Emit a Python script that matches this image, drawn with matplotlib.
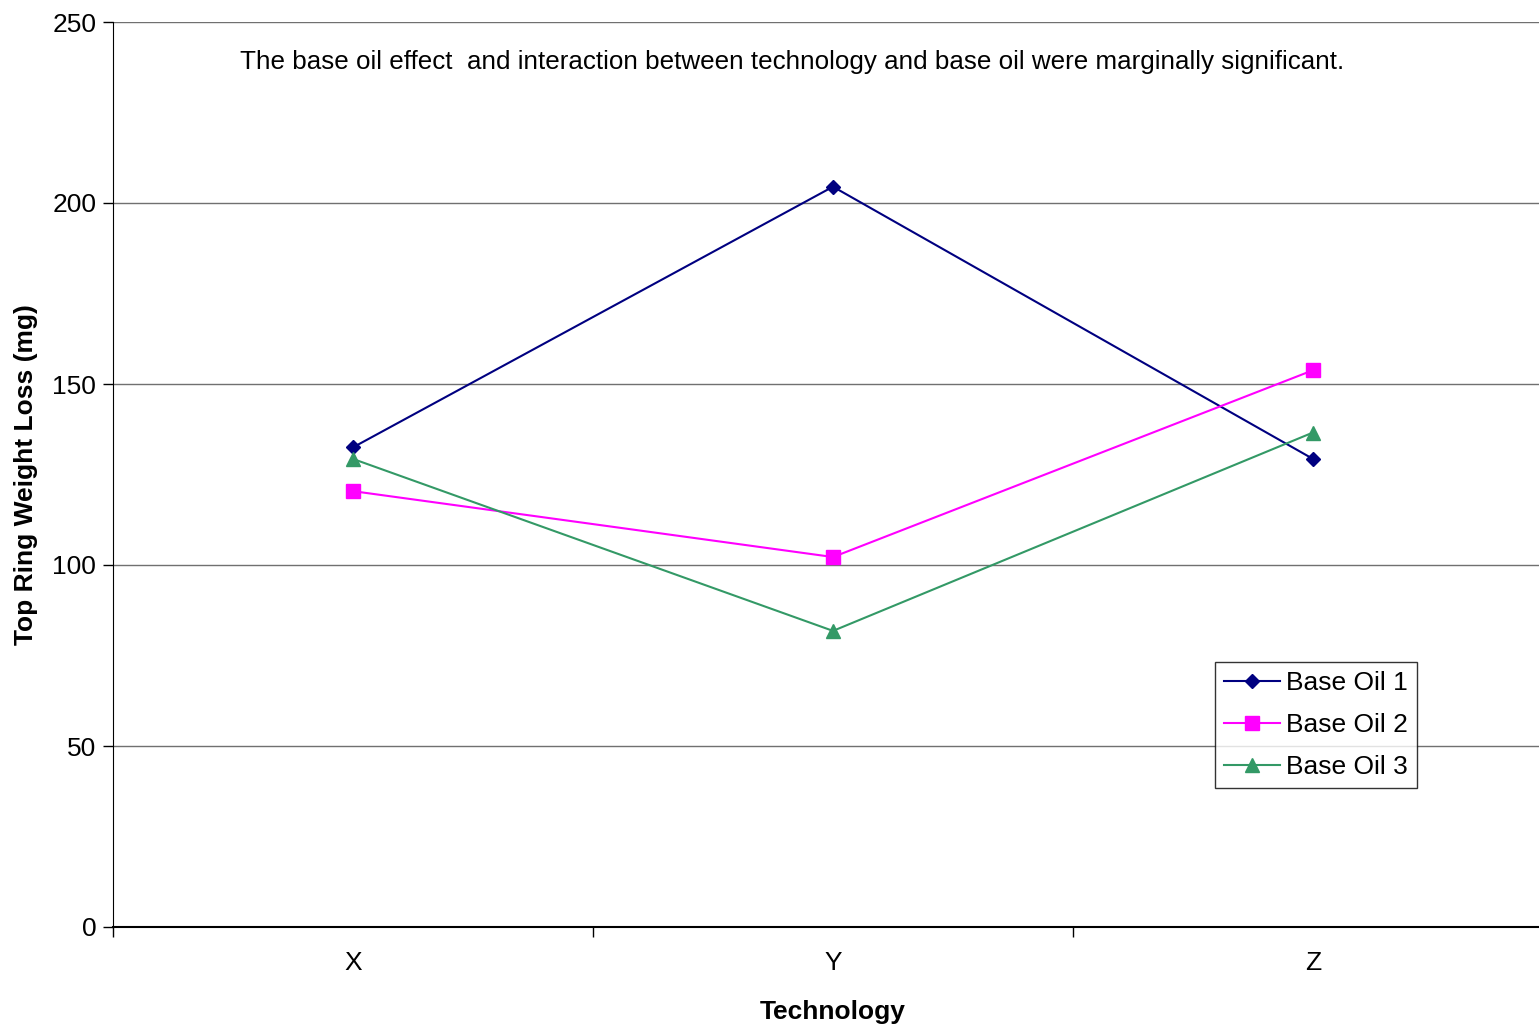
import matplotlib
matplotlib.use("Agg")
import matplotlib.pyplot as plt

plt.rcParams['font.family'] = ['Liberation Sans', 'DejaVu Sans']

categories = ["X", "Y", "Z"]
base_oil_1 = [132.5, 204.5, 129.3]
base_oil_2 = [120.4, 102.2, 153.8]
base_oil_3 = [129.3, 81.8, 136.6]
series_labels = ["Base Oil 1", "Base Oil 2", "Base Oil 3"]
y_ticks = [0, 50, 100, 150, 200, 250]
note = "The base oil effect  and interaction between technology and base oil were marginally significant."

W, H = 1539, 1026
fig = plt.figure(figsize=(W / 100, H / 100), dpi=100)
ax = fig.add_axes([113 / W, (H - 927) / H, 1440 / W, 905 / H])

styles = [
    dict(color="#000080", marker="D", markersize=7.5),
    dict(color="#FF00FF", marker="s", markersize=10),
    dict(color="#339966", marker="^", markersize=10.5),
]
xs = list(range(len(categories)))
for vals, lab, st in zip([base_oil_1, base_oil_2, base_oil_3], series_labels, styles):
    ax.plot(xs, vals, label=lab, linewidth=1.5, color=st["color"],
            marker=st["marker"], markersize=st["markersize"],
            markerfacecolor=st["color"], markeredgecolor=st["color"])

ax.set_xlim(-0.5, 2.5)
ax.set_ylim(0, 250)
ax.set_yticks(y_ticks)
ax.set_xticks(xs)
ax.set_xticklabels(categories)
ax.set_xticks([-0.5, 0.5, 1.5, 2.5], minor=True)
ax.tick_params(axis="x", which="major", length=0, pad=17, labelsize=19)
ax.tick_params(axis="x", which="minor", length=7, width=1, color="black", direction="out")
ax.tick_params(axis="y", length=7, width=1, direction="out", labelsize=19, pad=5)

ax.yaxis.grid(True, color="#707070", linewidth=1)
ax.set_axisbelow(True)
for s in ["top", "right"]:
    ax.spines[s].set_visible(False)
ax.spines["left"].set_color("black")
ax.spines["bottom"].set_color("black")
ax.spines["bottom"].set_linewidth(1.5)

ax.set_xlabel("Technology", fontsize=19, fontweight="bold", labelpad=18)
ax.set_ylabel("Top Ring Weight Loss (mg)", fontsize=19, fontweight="bold", labelpad=10)

ax.text((240 - 113) / 1440, (927 - 62) / 905, note, transform=ax.transAxes,
        fontsize=18.7, va="center", ha="left")

leg = ax.legend(loc="upper left", bbox_to_anchor=((1215 - 113) / 1440, (927 - 662) / 905),
                fontsize=19, frameon=True, fancybox=False, edgecolor="black",
                borderpad=0.35, handlelength=2.1, handletextpad=0.25, labelspacing=0.68,
                borderaxespad=0)
leg.get_frame().set_linewidth(1)

fig.savefig("out.png", dpi=100)
